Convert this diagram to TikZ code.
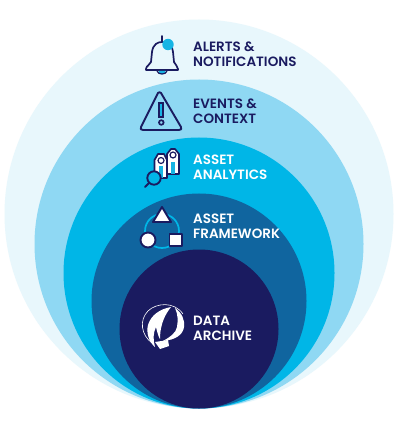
\documentclass[tikz,border=0pt]{standalone}
\usepackage{fontspec}
\setmainfont{Poppins SemiBold}
\definecolor{navy}{HTML}{1A1B60}
\definecolor{ringa}{HTML}{E8F7FC}
\definecolor{ringb}{HTML}{8FD8F3}
\definecolor{ringc}{HTML}{00B6E7}
\definecolor{ringd}{HTML}{10659F}
\definecolor{dotblue}{HTML}{16B4E4}
\tikzset{
  lbl/.style={anchor=west,align=left,font=\fontsize{13.5}{15.2}\selectfont,inner sep=0pt},
  ico/.style={line width=1.7pt,draw=navy,line join=round,line cap=round},
  wico/.style={line width=1.9pt,draw=navy,fill=white,line join=round}
}
\begin{document}
\begin{tikzpicture}[x=1pt,y=-1pt]
\useasboundingbox (0,0) rectangle (400,427);
\fill[white] (0,0) rectangle (400,427);
\fill[ringa] (199,214) circle[radius=194.5pt];
\fill[ringb] (199,244) circle[radius=164.5pt];
\fill[ringc] (199,273) circle[radius=135.5pt];
\fill[ringd] (199,301) circle[radius=107.5pt];
\fill[navy]  (199,329) circle[radius=79.5pt];
% labels
\node[lbl,text=navy] (alerts) at (193,54) {ALERTS \&\\NOTIFICATIONS};
\node[lbl,text=navy] (events) at (193,111) {EVENTS \&\\CONTEXT};
\node[lbl,text=white] (analytics) at (193,167) {ASSET\\ANALYTICS};
\node[lbl,text=white] (framework) at (193,226) {ASSET\\FRAMEWORK};
\node[lbl,text=white] (archive) at (193,328) {DATA\\ARCHIVE};
% bell
\draw[ico] (162,36) -- (162,42);
\draw[ico] (146,69) .. controls (146,66) and (150,65) .. (151,62) -- (152,52)
  .. controls (153,44) and (158,42) .. (162,42) .. controls (167,42) and (172,44) .. (173,52)
  -- (174,62) .. controls (175,65) and (178,66) .. (178,69) -- (178,70) -- (146,70) -- cycle;
\fill[dotblue] (158.5,71) arc[start angle=180,end angle=360,radius=3.5pt] -- cycle;
\draw[navy,line width=1.2pt] (157,71) .. controls (158,75) and (166,75) .. (167,71);
\fill[dotblue] (168,44.5) circle[radius=5.7pt];
% warning
\draw[ico,line width=1.9pt] (161,93) -- (181,127) .. controls (182,129) and (181,130) .. (179,130)
 -- (143,130) .. controls (141,130) and (140,129) .. (141,127) -- (158,93) .. controls (159,92) and (160,92) .. (161,93) -- cycle;
\draw[navy,line width=1.3pt,fill=dotblue] (159,103) rectangle (163,117);
\draw[navy,line width=1.7pt] (161.3,122.5) circle[radius=2.3pt];
% analytics tags
\draw[wico,line width=1.7pt] (167,154) -- (167,174) -- (179,174) -- (179,154) -- (175,149) -- (171,149) -- cycle;
\fill[dotblue] (171,162) rectangle (175,174);
\draw[navy,line width=1.2pt,fill=white] (173,155) circle[radius=3pt];
\draw[wico,line width=1.7pt] (154.5,160) -- (154.5,178) -- (167,178) -- (167,160) -- (164,154) -- (158,154) -- cycle;
\fill[dotblue] (159,166) rectangle (163,178);
\draw[navy,line width=1.2pt,fill=white] (161,160.5) circle[radius=3pt];
\draw[navy,line width=1.9pt,fill=ringc] (154,178) circle[radius=6.7pt];
\draw[navy,line width=1.9pt,line cap=round] (149,183) -- (145,187);
% framework
\draw[ringc,line width=1.7pt] (162,231) circle[radius=17pt];
\draw[wico] (162,207) -- (171,222) -- (153,222) -- cycle;
\draw[wico] (148,240) circle[radius=7.5pt];
\draw[wico] (169.5,234) rectangle (182,246);
% logo
\draw[white,line width=.6pt] (152,343) .. controls (141,335) and (139,320) .. (148,311)
  .. controls (156,303) and (174,301) .. (183,314);
\fill[white] (171,307) .. controls (160,309) and (151,315) .. (148,325)
  .. controls (146,333) and (149,342) .. (155,347)
  .. controls (153,340) and (153,333) .. (156,327)
  .. controls (157,331) and (158,336) .. (160,339)
  .. controls (160,330) and (162,318) .. (171,307) -- cycle;
\fill[white] (175,308) .. controls (182,313) and (185,320) .. (184,327)
  .. controls (183,335) and (175,340) .. (163,341)
  .. controls (170,337) and (176,333) .. (177,327)
  .. controls (178,321) and (178,314) .. (175,308) -- cycle;
\fill[white] (155,342) -- (168,340) -- (169,346) -- (160,349) -- cycle;
\end{tikzpicture}
\end{document}
